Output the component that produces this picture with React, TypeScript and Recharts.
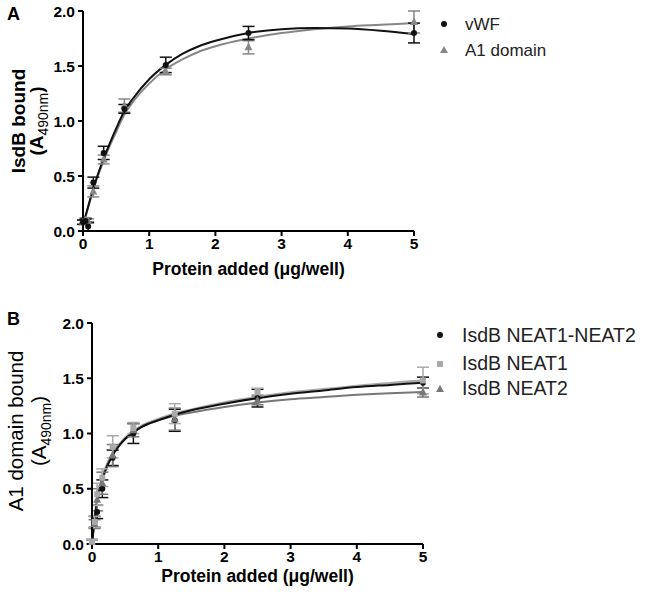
import React from "react";
import { ComposedChart, Line, Scatter, ErrorBar, XAxis, YAxis } from "recharts";

const FONT = "'Liberation Sans', Arial, sans-serif";

// Panel A: measured points (mean, error)
const doseA = [0, 0.039, 0.078, 0.156, 0.3125, 0.625, 1.25, 2.5, 5];
const vwfMean = [0.08, 0.09, 0.04, 0.44, 0.71, 1.11, 1.51, 1.8, 1.8];
const vwfErr = [0.02, 0.02, 0.04, 0.05, 0.06, 0.04, 0.07, 0.06, 0.09];
const a1Mean = [0.08, 0.1, 0.09, 0.36, 0.65, 1.14, 1.45, 1.67, 1.9];
const a1Err = [0.02, 0.02, 0.02, 0.05, 0.04, 0.06, 0.03, 0.06, 0.1];

// Panel A: fitted curves
const fitXA = [0, 0.1, 0.2, 0.3, 0.4, 0.5, 0.625, 0.75, 1, 1.25, 1.5, 1.75, 2, 2.5, 3, 3.5, 4, 4.5, 5];
const vwfFit = [0.05, 0.27, 0.47, 0.64, 0.79, 0.93, 1.09, 1.2, 1.38, 1.51, 1.61, 1.68, 1.73, 1.8, 1.835, 1.845, 1.84, 1.82, 1.79];
const a1Fit = [0.05, 0.26, 0.46, 0.62, 0.77, 0.9, 1.06, 1.17, 1.34, 1.47, 1.56, 1.63, 1.68, 1.75, 1.8, 1.835, 1.86, 1.875, 1.89];

// Panel B: measured points
const doseB = [0, 0.039, 0.078, 0.156, 0.3125, 0.625, 1.25, 2.5, 5];
const n12Mean = [0.02, 0.2, 0.29, 0.5, 0.78, 1.0, 1.12, 1.32, 1.46];
const n12Err = [0.02, 0.05, 0.06, 0.08, 0.07, 0.09, 0.1, 0.08, 0.05];
const n1Mean = [0.02, 0.2, 0.45, 0.6, 0.88, 1.05, 1.18, 1.38, 1.48];
const n1Err = [0.02, 0.05, 0.1, 0.08, 0.1, 0.05, 0.09, 0.03, 0.12];
const n2Mean = [0.02, 0.18, 0.4, 0.55, 0.8, 1.03, 1.13, 1.3, 1.37];
const n2Err = [0.02, 0.04, 0.1, 0.1, 0.1, 0.06, 0.1, 0.04, 0.04];

// Panel B: fitted curves
const fitXB = [0, 0.05, 0.1, 0.15, 0.2, 0.3, 0.4, 0.5, 0.625, 0.75, 1, 1.25, 1.5, 2, 2.5, 3, 3.5, 4, 4.5, 5];
const n12Fit = [0, 0.27, 0.45, 0.57, 0.66, 0.79, 0.88, 0.95, 1.01, 1.06, 1.12, 1.17, 1.21, 1.27, 1.32, 1.36, 1.39, 1.42, 1.44, 1.46];
const n1Fit = [0, 0.29, 0.47, 0.59, 0.68, 0.81, 0.89, 0.96, 1.02, 1.07, 1.13, 1.18, 1.215, 1.28, 1.33, 1.37, 1.4, 1.43, 1.455, 1.48];
const n2Fit = [0, 0.28, 0.46, 0.58, 0.67, 0.8, 0.89, 0.95, 1.01, 1.06, 1.12, 1.16, 1.19, 1.24, 1.28, 1.31, 1.33, 1.35, 1.365, 1.375];

const xTicks = [0, 1, 2, 3, 4, 5];
const yTicks = [0, 0.5, 1, 1.5, 2];

const pts = (xs: number[], ys: number[], es: number[]) => xs.map((x, i) => ({ x, y: ys[i], err: es[i] }));
const curve = (xs: number[], ys: number[]) => xs.map((x, i) => ({ x, y: ys[i] }));

const BLACK = "#111111";
const GRAY = "#878787";
const LIGHT = "#a9a9a9";
const MID = "#777777";

const dot = (fill: string) => (p: any) => <circle cx={p.cx} cy={p.cy} r={3} fill={fill} />;
const tri = (fill: string) => (p: any) => (
  <polygon points={`${p.cx},${p.cy - 4.5} ${p.cx - 4},${p.cy + 3} ${p.cx + 4},${p.cy + 3}`} fill={fill} />
);
const sq = (fill: string) => (p: any) => <rect x={p.cx - 3} y={p.cy - 3} width={6} height={6} fill={fill} />;

const axisLine = { stroke: "#000", strokeWidth: 2 };
const tickStyle = { fill: "#000", fontSize: 15.5, fontWeight: "bold", fontFamily: FONT };

function XTitle({ viewBox, dy }: any) {
  return (
    <text
      x={viewBox.x + viewBox.width / 2}
      y={viewBox.y + dy}
      textAnchor="middle"
      fontFamily={FONT}
      fontWeight="bold"
      fontSize={17.5}
      fill="#000"
    >
      Protein added (μg/well)
    </text>
  );
}

function YTitle({ line1, cy, x1, x2, bold }: any) {
  const w = bold ? "bold" : "normal";
  return (
    <g fontFamily={FONT} fill="#000">
      <text transform={`translate(${x1},${cy}) rotate(-90)`} textAnchor="middle" fontSize={bold ? 19 : 20.5} fontWeight={w}>
        {line1}
      </text>
      <text transform={`translate(${x2},${cy}) rotate(-90)`} textAnchor="middle" fontSize={bold ? 19 : 20.5} fontWeight={w}>
        (A<tspan fontSize={14} dy={5} fontWeight="normal">490nm</tspan>
        <tspan dy={-5}>)</tspan>
      </text>
    </g>
  );
}

function PanelA() {
  return (
    <ComposedChart width={645} height={300} margin={{ top: 11, right: 231, bottom: 39, left: 38 }}>
      <XAxis
        type="number"
        dataKey="x"
        domain={[0, 5]}
        ticks={xTicks}
        axisLine={axisLine}
        tickLine={axisLine}
        tickSize={5}
        tickMargin={2}
        tick={tickStyle}
        height={30}
        label={{ content: (p: any) => <XTitle viewBox={p.viewBox} dy={44} /> }}
      />
      <YAxis
        type="number"
        dataKey="y"
        domain={[0, 2]}
        ticks={yTicks}
        tickFormatter={(v: number) => v.toFixed(1)}
        axisLine={axisLine}
        tickLine={axisLine}
        tickSize={5}
        tickMargin={3}
        tick={tickStyle}
        width={45}
        label={{ content: () => <YTitle line1="IsdB bound" cy={121} x1={25} x2={43} bold /> }}
      />
      <Line data={curve(fitXA, a1Fit)} dataKey="y" type="monotone" stroke={GRAY} strokeWidth={2} dot={false} isAnimationActive={false} />
      <Line data={curve(fitXA, vwfFit)} dataKey="y" type="monotone" stroke={BLACK} strokeWidth={2} dot={false} isAnimationActive={false} />
      <Scatter data={pts(doseA, a1Mean, a1Err)} shape={tri(GRAY)} isAnimationActive={false}>
        <ErrorBar dataKey="err" direction="y" width={6} stroke={GRAY} strokeWidth={1.5} />
      </Scatter>
      <Scatter data={pts(doseA, vwfMean, vwfErr)} shape={dot(BLACK)} isAnimationActive={false}>
        <ErrorBar dataKey="err" direction="y" width={6} stroke={BLACK} strokeWidth={1.5} />
      </Scatter>
    </ComposedChart>
  );
}

function PanelB() {
  return (
    <ComposedChart width={645} height={300} margin={{ top: 23, right: 222, bottom: 26, left: 47 }}>
      <XAxis
        type="number"
        dataKey="x"
        domain={[0, 5]}
        ticks={xTicks}
        axisLine={axisLine}
        tickLine={axisLine}
        tickSize={5}
        tickMargin={2}
        tick={tickStyle}
        height={30}
        label={{ content: (p: any) => <XTitle viewBox={p.viewBox} dy={38} /> }}
      />
      <YAxis
        type="number"
        dataKey="y"
        domain={[0, 2]}
        ticks={yTicks}
        tickFormatter={(v: number) => v.toFixed(1)}
        axisLine={axisLine}
        tickLine={axisLine}
        tickSize={5}
        tickMargin={3}
        tick={tickStyle}
        width={45}
        label={{ content: () => <YTitle line1="A1 domain bound" cy={131} x1={23} x2={46} /> }}
      />
      <Line data={curve(fitXB, n1Fit)} dataKey="y" type="monotone" stroke={LIGHT} strokeWidth={2.5} dot={false} isAnimationActive={false} />
      <Line data={curve(fitXB, n2Fit)} dataKey="y" type="monotone" stroke={MID} strokeWidth={2} dot={false} isAnimationActive={false} />
      <Line data={curve(fitXB, n12Fit)} dataKey="y" type="monotone" stroke={BLACK} strokeWidth={2} dot={false} isAnimationActive={false} />
      <Scatter data={pts(doseB, n12Mean, n12Err)} shape={dot(BLACK)} isAnimationActive={false}>
        <ErrorBar dataKey="err" direction="y" width={6} stroke={BLACK} strokeWidth={1.5} />
      </Scatter>
      <Scatter data={pts(doseB, n2Mean, n2Err)} shape={tri(MID)} isAnimationActive={false}>
        <ErrorBar dataKey="err" direction="y" width={6} stroke={MID} strokeWidth={1.5} />
      </Scatter>
      <Scatter data={pts(doseB, n1Mean, n1Err)} shape={sq(LIGHT)} isAnimationActive={false}>
        <ErrorBar dataKey="err" direction="y" width={6} stroke={LIGHT} strokeWidth={1.5} />
      </Scatter>
    </ComposedChart>
  );
}

export default function App() {
  return (
    <div style={{ position: "absolute", left: 0, top: 0, width: 645, height: 600, background: "#fff", fontFamily: FONT }}>
      <div style={{ position: "absolute", left: 0, top: 0 }}>
        <PanelA />
      </div>
      <div style={{ position: "absolute", left: 0, top: 300 }}>
        <PanelB />
      </div>
      <svg width={645} height={600} style={{ position: "absolute", left: 0, top: 0, pointerEvents: "none" }} fontFamily={FONT}>
        <text x={7} y={20} fontSize={18} fontWeight="bold">A</text>
        <text x={7} y={325} fontSize={18} fontWeight="bold">B</text>
        {/* legend A */}
        <circle cx={444} cy={24} r={3} fill={BLACK} />
        <text x={465} y={30} fontSize={17} fill="#222">vWF</text>
        <polygon points="444,46 440,53 448,53" fill={GRAY} />
        <text x={465} y={56} fontSize={17} fill="#222">A1 domain</text>
        {/* legend B */}
        <circle cx={440} cy={335} r={3} fill={BLACK} />
        <text x={462} y={342} fontSize={19.5} fill="#222">IsdB NEAT1-NEAT2</text>
        <rect x={437} y={361} width={6} height={6} fill={LIGHT} />
        <text x={462} y={370} fontSize={19.5} fill="#222">IsdB NEAT1</text>
        <polygon points="440,385 436,392 444,392" fill={MID} />
        <text x={462} y={395} fontSize={19.5} fill="#222">IsdB NEAT2</text>
      </svg>
    </div>
  );
}
